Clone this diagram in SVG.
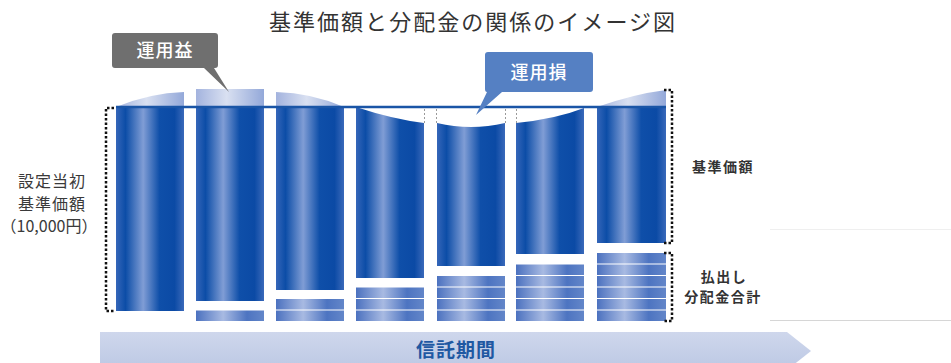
<svg xmlns="http://www.w3.org/2000/svg" width="951" height="363" viewBox="0 0 951 363">
<defs>
<linearGradient id="gBody" x1="0" y1="0" x2="1" y2="0">
<stop offset="0" stop-color="#3566b9"/>
<stop offset="0.14" stop-color="#0c4da7"/>
<stop offset="0.4" stop-color="#809dd5"/>
<stop offset="0.64" stop-color="#0f4fa9"/>
<stop offset="0.86" stop-color="#0b4aa5"/>
<stop offset="1" stop-color="#3a69ba"/>
</linearGradient>
<linearGradient id="gTop" x1="0" y1="0" x2="1" y2="0">
<stop offset="0" stop-color="#a3b3de"/>
<stop offset="0.45" stop-color="#d9e0f1"/>
<stop offset="1" stop-color="#93a8d9"/>
</linearGradient>
<linearGradient id="gDist" x1="0" y1="0" x2="1" y2="0">
<stop offset="0" stop-color="#4b71bf"/>
<stop offset="0.4" stop-color="#a8bae2"/>
<stop offset="0.75" stop-color="#4d74c1"/>
<stop offset="1" stop-color="#6386c9"/>
</linearGradient>
<linearGradient id="gArrow" x1="0" y1="0" x2="0" y2="1">
<stop offset="0" stop-color="#cfd7ec"/>
<stop offset="1" stop-color="#bcc8e4"/>
</linearGradient>
</defs>
<style>
.body{fill:url(#gBody)}
.top{fill:url(#gTop)}
.dist{fill:url(#gDist)}
.jp{font-family:"Noto Sans CJK JP","Noto Sans CJK SC",sans-serif}
.dot{fill:none;stroke:#111;stroke-width:2.5;stroke-dasharray:2.5 2}
.gdash{fill:none;stroke:#9a9a9a;stroke-width:1;stroke-dasharray:2 2}
.lbl{font-size:16px;fill:#3a3a3a;text-anchor:middle}
.rlbl{font-size:14px;font-weight:bold;fill:#333;text-anchor:middle;letter-spacing:1.5px}
.ctext{font-size:18px;fill:#fff;text-anchor:middle;font-weight:500;letter-spacing:1px}
</style>
<rect width="951" height="363" fill="#ffffff"/>

<!-- faint background lines -->
<line x1="770" y1="229.5" x2="951" y2="229.5" stroke="#efefef" stroke-width="1"/>
<line x1="770" y1="320.5" x2="951" y2="320.5" stroke="#d6d6d6" stroke-width="1"/>

<g id="title">
<text class="jp" x="472" y="30" font-size="22" fill="#333" text-anchor="middle" textLength="406" lengthAdjust="spacing">基準価額と分配金の関係のイメージ図</text>
</g>

<g id="bar1">
<path class="top" d="M116,107 Q150,93 184,92 L184,107 Z"/>
<rect class="body" x="116" y="107" width="68" height="204"/>
</g>
<g id="bar2">
<rect class="top" x="196" y="89" width="68" height="18"/>
<rect class="body" x="196" y="107" width="68" height="194"/>
<rect class="dist" x="196" y="310.5" width="68" height="10.5"/>
</g>
<g id="bar3">
<path class="top" d="M276,107 L276,92 Q312,93 344,107 Z"/>
<rect class="body" x="276" y="107" width="68" height="183"/>
<rect class="dist" x="276" y="299" width="68" height="10.5"/>
<rect class="dist" x="276" y="310.5" width="68" height="10.5"/>
</g>
<g id="bar4">
<path class="body" d="M356,107 Q392,119 424,123 L424,278 L356,278 Z"/>
<rect class="dist" x="356" y="287.5" width="68" height="10.5"/>
<rect class="dist" x="356" y="299" width="68" height="10.5"/>
<rect class="dist" x="356" y="310.5" width="68" height="10.5"/>
</g>
<g id="bar5">
<path class="body" d="M437,123 Q471,131 505,123 L505,266 L437,266 Z"/>
<rect class="dist" x="437" y="276" width="68" height="10.5"/>
<rect class="dist" x="437" y="287.5" width="68" height="10.5"/>
<rect class="dist" x="437" y="299" width="68" height="10.5"/>
<rect class="dist" x="437" y="310.5" width="68" height="10.5"/>
</g>
<g id="bar6">
<path class="body" d="M516,123 Q556,119 584,108 L584,254 L516,254 Z"/>
<rect class="dist" x="516" y="264.5" width="68" height="10.5"/>
<rect class="dist" x="516" y="276" width="68" height="10.5"/>
<rect class="dist" x="516" y="287.5" width="68" height="10.5"/>
<rect class="dist" x="516" y="299" width="68" height="10.5"/>
<rect class="dist" x="516" y="310.5" width="68" height="10.5"/>
</g>
<g id="bar7">
<path class="top" d="M597,107 Q634,94 666,90 L666,107 Z"/>
<rect class="body" x="597" y="107" width="69" height="136"/>
<rect class="dist" x="597" y="253" width="69" height="10.5"/>
<rect class="dist" x="597" y="264.5" width="69" height="10.5"/>
<rect class="dist" x="597" y="276" width="69" height="10.5"/>
<rect class="dist" x="597" y="287.5" width="69" height="10.5"/>
<rect class="dist" x="597" y="299" width="69" height="10.5"/>
<rect class="dist" x="597" y="310.5" width="69" height="10.5"/>
</g>

<g id="connectors">
<line x1="116" y1="107" x2="666" y2="107" stroke="#1a55a6" stroke-width="2.5"/>
<line class="gdash" x1="424.5" y1="109" x2="424.5" y2="123"/>
<line class="gdash" x1="436.5" y1="109" x2="436.5" y2="123"/>
<line class="gdash" x1="505.5" y1="109" x2="505.5" y2="123"/>
<line class="gdash" x1="516.5" y1="109" x2="516.5" y2="123"/>
<path class="dot" d="M114,108 L106,108 L106,311 L114,311"/>
<path class="dot" d="M664,90 L672,90 L672,243 L664,243"/>
<path class="dot" d="M664,253 L672,253 L672,321 L664,321"/>
</g>

<g id="callout-gain">
<path d="M115,33 L215,33 Q218,33 218,36 L218,65 Q218,68 215,68 L214,68 L229,92 L204,68 L115,68 Q112,68 112,65 L112,36 Q112,33 115,33 Z" fill="#6f6f6f"/>
<text class="jp ctext" x="165" y="57">運用益</text>
</g>
<g id="callout-loss">
<path d="M488,52 L590,52 Q593,52 593,55 L593,89 Q593,92 590,92 L502,92 L476,115 L487,92 Q485,92 485,89 L485,55 Q485,52 488,52 Z" fill="#5580c3"/>
<text class="jp ctext" x="539" y="79">運用損</text>
</g>

<g id="label-initial">
<text class="jp lbl" x="52" y="187" letter-spacing="1">設定当初</text>
<text class="jp lbl" x="52" y="210" letter-spacing="1">基準価額</text>
<text class="jp lbl" x="49" y="232">（10,000円）</text>
</g>
<g id="label-nav">
<text class="jp rlbl" x="723" y="172">基準価額</text>
</g>
<g id="label-dist">
<text class="jp rlbl" x="724" y="282">払出し</text>
<text class="jp rlbl" x="723" y="302">分配金合計</text>
</g>

<g id="period-arrow">
<polygon points="100,332 787,332 811,351 787,370 100,370" fill="url(#gArrow)"/>
<text class="jp" x="456" y="357" font-size="19" font-weight="bold" fill="#1f58a2" text-anchor="middle" letter-spacing="1">信託期間</text>
</g>
</svg>
